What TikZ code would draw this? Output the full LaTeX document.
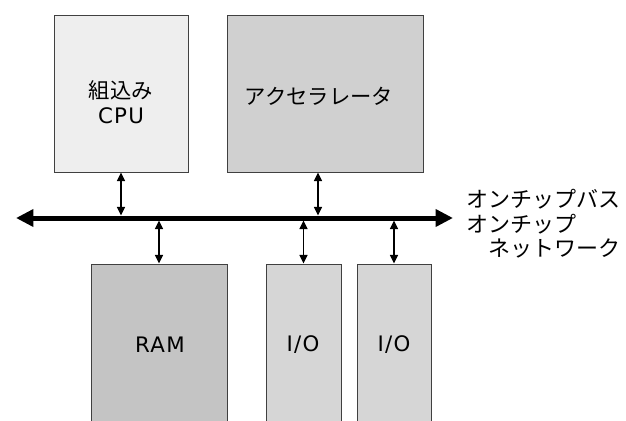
\documentclass[tikz,border=0pt]{standalone}
\usepackage{fontspec}
\setmainfont{DejaVu Sans}[LetterSpace=6]
\newfontfamily\jpfont{Noto Sans CJK JP}
\usetikzlibrary{arrows.meta}
\definecolor{cpuFill}{HTML}{EEEEEE}
\definecolor{accFill}{HTML}{D0D0D0}
\definecolor{ramFill}{HTML}{C4C4C4}
\definecolor{ioFill}{HTML}{D6D6D6}

\begin{document}
\begin{tikzpicture}[x=0.75pt,y=-0.75pt,
  box/.style={draw=black!75, line width=0.75pt, inner sep=0pt},
  link/.style={line width=1.2pt, shorten >=1.9pt, {Triangle[length=6.5pt,width=6pt]}-{Triangle[length=6.5pt,width=6pt]}},
  lbl/.style={font=\fontsize{16}{18.5}\selectfont, align=center, inner sep=0pt}]
\useasboundingbox (0,0) rectangle (626,421);
\clip (0,0) rectangle (626,421);
% blocks
\node[box, fill=cpuFill, minimum width={134*0.75pt}, minimum height={157*0.75pt}] (cpu) at (121,93.5) {};
\node[box, fill=accFill, minimum width={196*0.75pt}, minimum height={157*0.75pt}] (acc) at (325,93.5) {};
\node[box, fill=ramFill, minimum width={136*0.75pt}, minimum height={162*0.75pt}] (ram) at (159,345) {};
\node[box, fill=ioFill, minimum width={75*0.75pt}, minimum height={162*0.75pt}] (ioA) at (303.5,345) {};
\node[box, fill=ioFill, minimum width={74*0.75pt}, minimum height={162*0.75pt}] (ioB) at (394,345) {};
\node[lbl] (cpuLbl) at (121,102.5) {{\jpfont 組込み}\\CPU};
\node[lbl] (accLbl) at (319,96) {\jpfont アクセラレータ};
\node[lbl] (ramLbl) at (160,345) {RAM};
\node[lbl] (ioALbl) at (303,345) {I/O};
\node[lbl] (ioBLbl) at (394,345) {I/O};
% bus
\coordinate (busL) at (16,218);
\coordinate (busR) at (453,218);
\draw[line width=3.75pt, {Triangle[length=13pt,width=12.5pt]}-{Triangle[length=13pt,width=12.5pt]}] (busL) -- (busR);
\node[lbl, font=\jpfont\fontsize{16.5}{18.5}\selectfont, align=left, anchor=west] (busLbl) at (466,224) {オンチップバス\\オンチップ\\\hspace*{1em}ネットワーク};
% taps
\coordinate (tapA) at (318,218);
\draw[link] (cpu.south) -- (cpu.south |- busL);
\draw[link] (tapA |- acc.south) -- (tapA);
\draw[link] (ram.north) -- (ram.north |- busL);
\draw[link] (ioA.north) -- (ioA.north |- busL);
\draw[link] (ioB.north) -- (ioB.north |- busL);
\end{tikzpicture}
\end{document}
